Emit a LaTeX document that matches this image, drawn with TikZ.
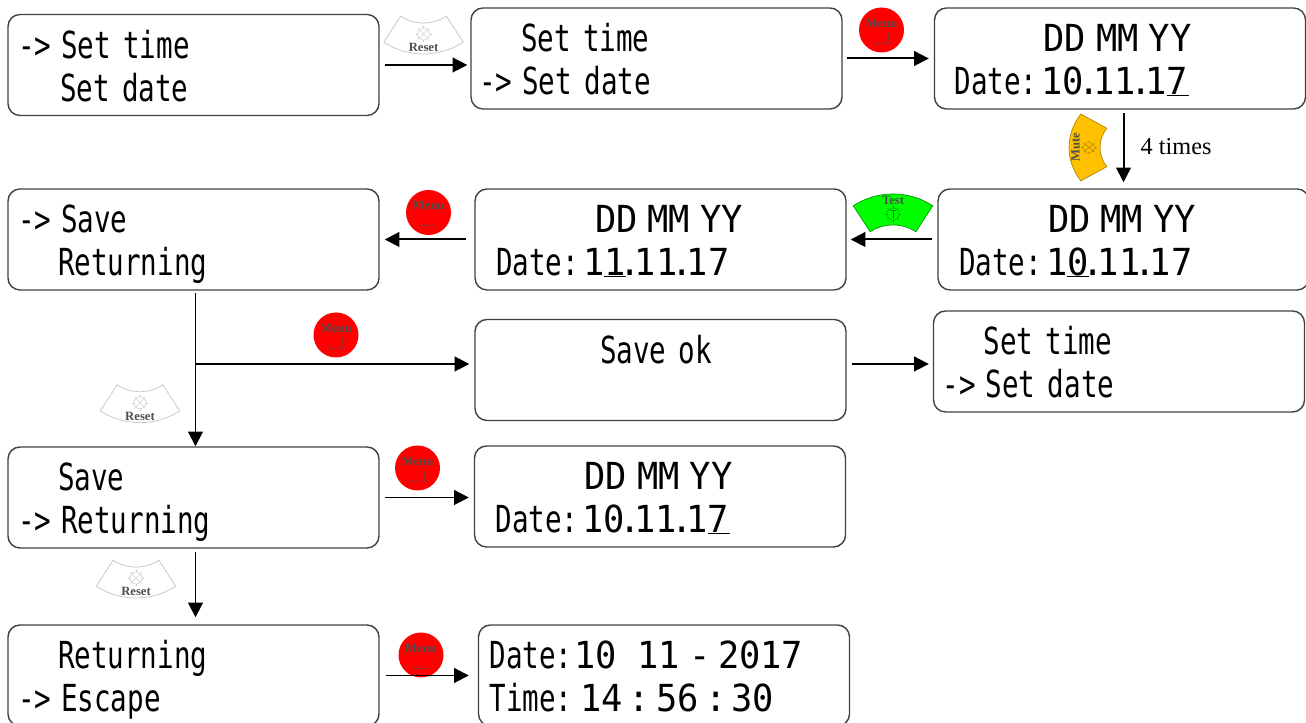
\documentclass[tikz,border=0pt]{standalone}
\usepackage{fontspec}
\usepackage{tikz}
\usetikzlibrary{arrows.meta,calc}
\setmainfont{Liberation Serif}
\newfontfamily\lcdn[FakeStretch=0.74]{DejaVu Sans Mono}
\newfontfamily\lcdw[FakeStretch=0.95]{DejaVu Sans Mono}
\newcommand{\lcdsize}{\fontsize{10.6pt}{12.2pt}\selectfont}
\newcommand{\dt}{\hspace{-0.06cm}.\hspace{-0.06cm}}
\newcommand{\gap}[1]{\hspace*{#1cm}}
\newcommand{\ul}[1]{\rlap{\rule[-0.4pt]{0.22cm}{0.28pt}}#1}
\definecolor{keyink}{HTML}{4F4F4F}
\definecolor{keyline}{HTML}{C4C4C4}
\definecolor{mutefill}{HTML}{FFC000}
\tikzset{
  >={Triangle[length=4.2pt,width=4.2pt]},
  flow/.style={->,line width=0.56pt},
  lcdbox/.style={draw=black!75,line width=0.4pt,rectangle,rounded corners=0.12cm,
    minimum width=3.71cm,minimum height=1.01cm,inner sep=0pt,text width=3.71cm,
    text height=0.44cm,text depth=0.57cm,align=left,font=\lcdn\lcdsize},
  keylabel/.style={font=\bfseries\fontsize{3.6pt}{4pt}\selectfont,text=keyink,inner sep=0pt},
  % round red key, origin in its centre
  pics/menukey/.style={code={
    \fill[red] (0,0) circle (0.225);
    \node[keylabel] at (0,0.07) {Menu};
    \draw[red!45!keyink,line width=0.15pt,->,>={Straight Barb[length=1pt,width=1.6pt]}] (0.065,-0.03) -- (0.065,-0.13) -- (-0.08,-0.13);
  }},
  % bent key, origin in the centre of its arc: fill, line, label, label angle, inner mark
  pics/bentkey/.style n args={5}{code={
    \draw[draw=#2,fill=#1,line width=0.2pt] (-123:0.42) arc (-123:-57:0.42) -- (-57:0.73) arc (-57:-123:0.73) -- cycle;
    \draw[#2,line width=0.12pt] (0,-0.53) circle (0.06);
    \foreach \a in {0,45,...,315}
      \draw[#2,line width=0.1pt] ($(0,-0.53)+(\a:0.06)$) -- ($(0,-0.53)+(\a:0.08)$);
    #5
    \node[keylabel,rotate=#4] at (0,-0.665) {#3};
  }},
}
\newcommand{\crossmark}[1]{\draw[#1,line width=0.1pt] (-0.042,-0.488) -- (0.042,-0.572) (-0.042,-0.572) -- (0.042,-0.488);}
\newcommand{\teemark}[1]{\draw[#1,line width=0.1pt] (0,-0.49) -- (0,-0.57) (-0.03,-0.57) -- (0.03,-0.57);}
\begin{document}
\begin{tikzpicture}
\useasboundingbox (0,0) rectangle (13.06,7.23);
% first row
\node[lcdbox] (a1) at(1.935,6.58){\gap{0.10}->\gap{0.1}Set time\\\gap{0.52}Set date};
\node[lcdbox] (a2) at(6.565,6.645){\gap{0.50}Set time\\\gap{0.08}->\gap{0.1}Set date};
\node[lcdbox] (a3) at(11.2,6.645){\gap{1.09}{\lcdw DD\gap{0.1}MM\gap{0.1}YY}\\\gap{0.20}Date:\gap{0.04}{\lcdw 10\dt11\dt1\ul{7}}};
% second row
\node[lcdbox] (b3) at(11.235,4.835){\gap{1.10}{\lcdw DD\gap{0.1}MM\gap{0.1}YY}\\\gap{0.21}Date:\gap{0.04}{\lcdw 1\ul{0}\dt11\dt17}};
\node[lcdbox] (b2) at(6.605,4.835){\gap{1.20}{\lcdw DD\gap{0.1}MM\gap{0.1}YY}\\\gap{0.21}Date:\gap{0.04}{\lcdw 1\ul{1}\dt11\dt17}};
\node[lcdbox] (b1) at(1.935,4.835){\gap{0.10}->\gap{0.1}Save\\\gap{0.50}Returning};
% third row
\node[lcdbox] (c2) at(6.605,3.53){\gap{1.25}Save ok\\~};
\node[lcdbox] (c3) at(11.19,3.615){\gap{0.50}Set time\\\gap{0.09}->\gap{0.1}Set date};
% fourth row
\node[lcdbox] (d1) at(1.935,2.255){\gap{0.50}Save\\\gap{0.10}->\gap{0.1}Returning};
\node[lcdbox] (d2) at(6.6,2.265){\gap{1.10}{\lcdw DD\gap{0.1}MM\gap{0.1}YY}\\\gap{0.21}Date:\gap{0.04}{\lcdw 10\dt11\dt1\ul{7}}};
% last row
\node[lcdbox] (e1) at(1.935,0.475){\gap{0.50}Returning\\\gap{0.10}->\gap{0.1}Escape};
\node[lcdbox] (e2) at(6.64,0.475){\gap{0.11}Date:\gap{0.02}{\lcdw 10\gap{0.2}11\gap{0.1}-\gap{0.07}2017}\\\gap{0.11}Time:\gap{0.08}{\lcdw 14\gap{0.05}:\gap{0.07}56\gap{0.06}:\gap{0.05}30}};
% keys
\pic at(4.235,7.42) {bentkey={white}{keyline}{Reset}{0}{\crossmark{keyline}}};
\pic at(8.815,6.93) {menukey};
\pic[rotate=-90,xscale=0.84] at(11.42,5.755) {bentkey={mutefill}{mutefill!70!black}{Mute}{90}{\crossmark{mutefill!60!black}}};
\pic[rotate=180] at(8.93,4.56) {bentkey={green}{green!60!black}{Test}{0}{\teemark{green!50!black}}};
\pic at(4.285,5.105) {menukey};
\pic at(3.36,3.88) {menukey};
\pic at(1.4,3.733) {bentkey={white}{keyline}{Reset}{0}{\crossmark{keyline}}};
\pic at(4.175,2.55) {menukey};
\pic at(1.36,1.98) {bentkey={white}{keyline}{Reset}{0}{\crossmark{keyline}}};
\pic at(4.21,0.68) {menukey};
% connectors
\coordinate (br) at(1.96,3.59);
\draw[flow,shorten <=0.05cm,shorten >=0.03cm] (a1.east) -- (a1.east -| a2.west);
\draw[flow,shorten <=0.04cm,shorten >=0.05cm] (a2) -- (a3);
\draw[flow,shorten <=0.03cm,shorten >=0.06cm] (b3.north |- a3.south) -- (b3.north);
\draw[flow,shorten <=0.05cm,shorten >=0.04cm] (b3) -- (b2);
\draw[flow,shorten <=0.08cm,shorten >=0.05cm] (b2) -- (b1);
\draw[flow,shorten <=0.02cm] ([xshift=0.02cm]b1.south) -- ([xshift=0.02cm]d1.north);
\draw[flow,shorten >=0.05cm] (br) -- (br -| c2.west);
\draw[flow,shorten <=0.05cm,shorten >=0.04cm] (c2.east |- br) -- (c3.west |- br);
\draw[flow,shorten <=0.05cm,shorten >=0.05cm] (d1.east) -- (d1.east -| d2.west);
\draw[flow,shorten <=0.03cm,shorten >=0.07cm] ([xshift=0.02cm]d1.south) -- ([xshift=0.02cm]e1.north);
\draw[flow,shorten <=0.06cm,shorten >=0.09cm] (e1.east) -- (e1.east -| e2.west);
\node[font=\fontsize{6.9pt}{8pt}\selectfont,inner sep=0pt,right] (times) at(11.4,5.76) {4 times};
\end{tikzpicture}
\end{document}
